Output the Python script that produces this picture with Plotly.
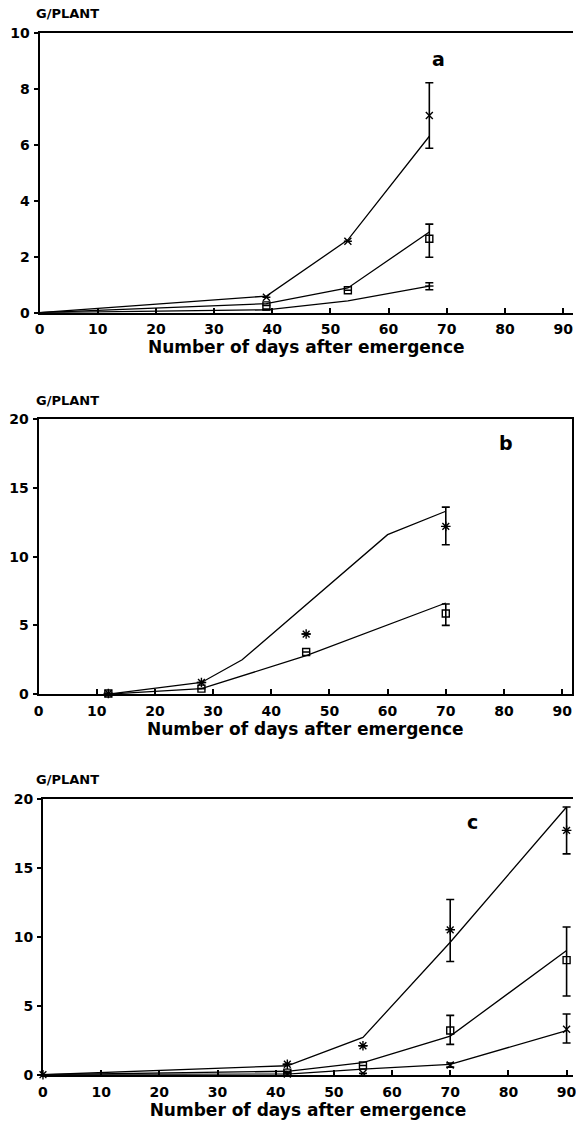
import plotly.graph_objects as go

NAN = float("nan")

# ---------------- panel a ----------------
a_model_days = [0, 39, 53, 67]
a_top_model = [0, 0.59, 2.6, 6.3]
a_mid_model = [0, 0.32, 0.88, 2.88]
a_low_model = [0, 0.1, 0.42, 0.95]

a_obs_days = [39, 53, 67]
a_top_obs = [0.55, 2.55, 7.04]
a_top_err_hi = [NAN, NAN, 1.17]
a_top_err_lo = [NAN, NAN, 1.17]
a_mid_obs = [0.26, 0.8, 2.64]
a_mid_err_hi = [NAN, NAN, 0.52]
a_mid_err_lo = [NAN, NAN, 0.66]
a_low_days = [39, 67]
a_low_obs = [0.1, 0.95]
a_low_err_hi = [NAN, 0.12]
a_low_err_lo = [NAN, 0.13]

# ---------------- panel b ----------------
b_top_model_days = [12, 28, 35, 60, 70]
b_top_model = [0, 0.85, 2.5, 11.6, 13.3]
b_mid_model_days = [12, 28, 46, 70]
b_mid_model = [0, 0.4, 2.8, 6.63]

b_obs_days = [12, 28, 46, 70]
b_top_obs = [0.05, 0.85, 4.37, 12.2]
b_top_err_hi = [NAN, NAN, NAN, 1.4]
b_top_err_lo = [NAN, NAN, NAN, 1.34]
b_mid_obs = [0.05, 0.4, 3.07, 5.87]
b_mid_err_hi = [NAN, NAN, NAN, 0.69]
b_mid_err_lo = [NAN, NAN, NAN, 0.87]

# ---------------- panel c ----------------
c_model_days = [0, 42, 55, 70, 90]
c_top_model = [0, 0.65, 2.7, 9.6, 19.4]
c_mid_model = [0, 0.25, 0.88, 2.8, 9.0]
c_low_model = [0, 0.05, 0.4, 0.75, 3.2]

c_top_days = [0, 42, 55, 70, 90]
c_top_obs = [0, 0.76, 2.1, 10.5, 17.7]
c_top_err_hi = [NAN, NAN, NAN, 2.2, 1.7]
c_top_err_lo = [NAN, NAN, NAN, 2.3, 1.7]
c_obs_days = [42, 55, 70, 90]
c_mid_obs = [0.15, 0.67, 3.2, 8.3]
c_mid_err_hi = [NAN, NAN, 1.1, 2.4]
c_mid_err_lo = [NAN, NAN, 1.0, 2.6]
c_low_obs = [0.05, 0.1, 0.7, 3.3]
c_low_err_hi = [NAN, NAN, 0.15, 1.1]
c_low_err_lo = [NAN, NAN, 0.15, 1.0]

x_ticks = [0, 10, 20, 30, 40, 50, 60, 70, 80, 90]
a_y_ticks = [0, 2, 4, 6, 8, 10]
bc_y_ticks = [0, 5, 10, 15, 20]

FONT = "DejaVu Sans, Arial, sans-serif"
W, H = 576, 1133

fig = go.Figure()


def model_line(days, vals, ax):
    fig.add_trace(go.Scatter(
        x=days, y=vals, mode="lines", xaxis="x" + ax, yaxis="y" + ax,
        line=dict(color="black", width=1.3), showlegend=False,
        hoverinfo="skip", cliponaxis=False))


def observed(days, vals, hi, lo, symbol, size, ax):
    fig.add_trace(go.Scatter(
        x=days, y=vals, mode="markers", xaxis="x" + ax, yaxis="y" + ax,
        marker=dict(symbol=symbol, size=size, color="black",
                    line=dict(color="black", width=1.4)),
        error_y=dict(type="data", symmetric=False, array=hi, arrayminus=lo,
                     color="black", thickness=1.6, width=4),
        showlegend=False, cliponaxis=False))


# panel a
model_line(a_model_days, a_top_model, "")
model_line(a_model_days, a_mid_model, "")
model_line(a_model_days, a_low_model, "")
observed(a_obs_days, a_top_obs, a_top_err_hi, a_top_err_lo, "x-thin-open", 7, "")
observed(a_obs_days, a_mid_obs, a_mid_err_hi, a_mid_err_lo, "square-open", 7, "")
observed(a_low_days, a_low_obs, a_low_err_hi, a_low_err_lo, "line-ew-open", 6, "")

# panel b
model_line(b_top_model_days, b_top_model, "2")
model_line(b_mid_model_days, b_mid_model, "2")
observed(b_obs_days, b_top_obs, b_top_err_hi, b_top_err_lo, "asterisk-open", 8, "2")
observed(b_obs_days, b_mid_obs, b_mid_err_hi, b_mid_err_lo, "square-open", 7, "2")

# panel c
model_line(c_model_days, c_top_model, "3")
model_line(c_model_days, c_mid_model, "3")
model_line(c_model_days, c_low_model, "3")
observed(c_top_days, c_top_obs, c_top_err_hi, c_top_err_lo, "asterisk-open", 8, "3")
observed(c_obs_days, c_mid_obs, c_mid_err_hi, c_mid_err_lo, "square-open", 7, "3")
observed(c_obs_days, c_low_obs, c_low_err_hi, c_low_err_lo, "x-thin-open", 7, "3")


def px_x(p):
    return p / W


def px_y(p):
    return 1 - p / H


tick_font = dict(family=FONT, size=14, color="black", weight="bold")


def x_axis(left_px, right_px, span, anchor):
    return dict(
        domain=[px_x(left_px), px_x(right_px)], range=[0, span],
        anchor=anchor, tickvals=x_ticks, ticks="inside", ticklen=5,
        tickwidth=1.5, tickcolor="black", showline=True, linecolor="black",
        linewidth=2, mirror=True, showgrid=False, zeroline=False,
        tickfont=tick_font, ticklabelstandoff=3, ticklabeloverflow="allow",
        title=dict(text="Number of days after emergence",
                   font=dict(family=FONT, size=17, color="black", weight="bold"),
                   standoff=0))


def y_axis(top_px, bottom_px, top_val, ticks, anchor, boxed):
    return dict(
        domain=[px_y(bottom_px), px_y(top_px)], range=[0, top_val],
        anchor=anchor, tickvals=ticks, ticks="outside", ticklen=4,
        tickwidth=1.5, tickcolor="black", showline=True, linecolor="black",
        linewidth=2, mirror=boxed, showgrid=False, zeroline=False,
        tickfont=tick_font, ticklabelstandoff=1)


fig.update_layout(
    width=W, height=H, margin=dict(l=0, r=0, t=0, b=0),
    paper_bgcolor="white", plot_bgcolor="white",
    xaxis=x_axis(35, 576, 541 / 5.9, "y"),
    yaxis=y_axis(25, 309, 10, a_y_ticks, "x", False),
    xaxis2=x_axis(34, 575, 541 / 5.9, "y2"),
    yaxis2=y_axis(417, 696, 20, bc_y_ticks, "x2", True),
    xaxis3=x_axis(38.5, 576, 537.5 / 5.9, "y3"),
    yaxis3=y_axis(802, 1082, 20, bc_y_ticks, "x3", False),
)

label_font = dict(family=FONT, size=13, color="black", weight="bold")
panel_font = dict(family=FONT, size=19, color="black", weight="bold")
annotations = []
for top_px, letter, lx, ly in [(25, "a", 440, 58), (417, "b", 508, 447), (802, "c", 474, 832)]:
    annotations.append(dict(text="G/PLANT", x=px_x(29), y=px_y(top_px - 19),
                            xref="paper", yref="paper", xanchor="left",
                            yanchor="middle", showarrow=False, font=label_font))
    annotations.append(dict(text=letter, x=px_x(lx), y=px_y(ly - 6),
                            xref="paper", yref="paper", xanchor="center",
                            yanchor="middle", showarrow=False, font=panel_font))
fig.update_layout(annotations=annotations)

fig.write_html("out.html")
